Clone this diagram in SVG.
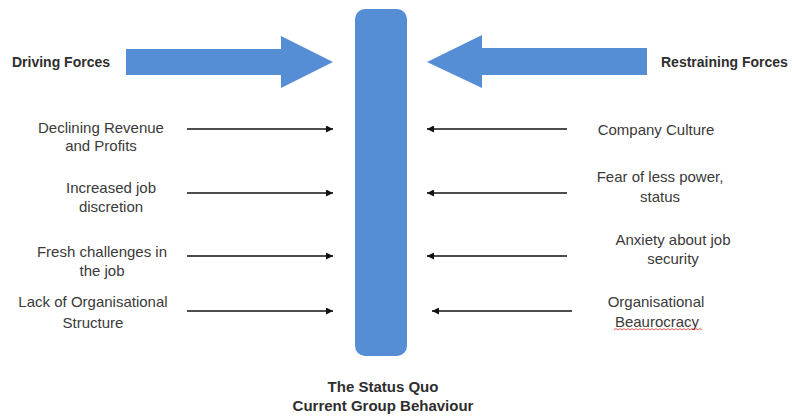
<svg xmlns="http://www.w3.org/2000/svg" width="792" height="417" viewBox="0 0 792 417">
  <style>
    .big { fill: #558ed5; }
    .lbl { font-family: "Liberation Sans", Arial, sans-serif; font-size: 15px; fill: #3a3a3a; text-anchor: middle; }
    .head { font-family: "Liberation Sans", Arial, sans-serif; font-size: 14px; font-weight: bold; fill: #2e2e2e; }
    .foot { font-size: 15px; text-anchor: middle; }
    .force { stroke: #111; stroke-width: 1.5; fill: none; marker-end: url(#tip); }
  </style>
  <defs>
    <marker id="tip" viewBox="0 0 10 10" refX="10" refY="5" markerWidth="7" markerHeight="7" markerUnits="userSpaceOnUse" orient="auto">
      <path d="M0,0 L10,5 L0,10 z" fill="#111"/>
    </marker>
  </defs>
  <rect width="792" height="417" fill="#ffffff"/>

  <!-- central bar: the status quo -->
  <g id="status-quo">
    <rect class="big" x="355" y="9" width="52" height="347" rx="10" ry="10"/>
    <text class="head foot" x="383" y="392">The Status Quo</text>
    <text class="head foot" x="383" y="411">Current Group Behaviour</text>
  </g>

  <!-- main driving / restraining arrows -->
  <g id="driving">
    <polygon class="big" points="126,49 281,49 281,36 333,62 281,88 281,75 126,75"/>
    <text class="head" x="12" y="67">Driving Forces</text>
  </g>
  <g id="restraining">
    <polygon class="big" points="647,48 482,48 482,35 427,62 482,88 482,75 647,75"/>
    <text class="head" x="661" y="67">Restraining Forces</text>
  </g>

  <!-- force connectors -->
  <g id="connectors">
    <line class="force" x1="187" y1="129" x2="333" y2="129"/>
    <line class="force" x1="187" y1="193" x2="333" y2="193"/>
    <line class="force" x1="187" y1="256" x2="333" y2="256"/>
    <line class="force" x1="187" y1="311" x2="333" y2="311"/>
    <line class="force" x1="567" y1="129" x2="427" y2="129"/>
    <line class="force" x1="567" y1="193" x2="427" y2="193"/>
    <line class="force" x1="567" y1="256" x2="427" y2="256"/>
    <line class="force" x1="572" y1="311" x2="432" y2="311"/>
  </g>

  <!-- driving force labels -->
  <g id="d1"><text class="lbl" x="101" y="133">Declining Revenue</text><text class="lbl" x="101" y="151">and Profits</text></g>
  <g id="d2"><text class="lbl" x="111" y="193">Increased job</text><text class="lbl" x="111" y="212">discretion</text></g>
  <g id="d3"><text class="lbl" x="102" y="257">Fresh challenges in</text><text class="lbl" x="102" y="276">the job</text></g>
  <g id="d4"><text class="lbl" x="93" y="307">Lack of Organisational</text><text class="lbl" x="93" y="328">Structure</text></g>

  <!-- restraining force labels -->
  <g id="r1"><text class="lbl" x="656" y="135">Company Culture</text></g>
  <g id="r2"><text class="lbl" x="660" y="182">Fear of less power,</text><text class="lbl" x="660" y="202">status</text></g>
  <g id="r3"><text class="lbl" x="673" y="245">Anxiety about job</text><text class="lbl" x="673" y="264">security</text></g>
  <g id="r4">
    <text class="lbl" x="656" y="307">Organisational</text>
    <text class="lbl" x="657" y="327">Beaurocracy</text>
    <path d="M614,330 l2,-1.5 l2,1.5 l2,-1.5 l2,1.5 l2,-1.5 l2,1.5 l2,-1.5 l2,1.5 l2,-1.5 l2,1.5 l2,-1.5 l2,1.5 l2,-1.5 l2,1.5 l2,-1.5 l2,1.5 l2,-1.5 l2,1.5 l2,-1.5 l2,1.5 l2,-1.5 l2,1.5 l2,-1.5 l2,1.5 l2,-1.5 l2,1.5 l2,-1.5 l2,1.5 l2,-1.5 l2,1.5 l2,-1.5 l2,1.5 l2,-1.5 l2,1.5 l2,-1.5 l2,1.5 l2,-1.5 l2,1.5 l2,-1.5 l2,1.5 l2,-1.5 l2,1.5 l2,-1.5 l2,1.5" fill="none" stroke="#e03030" stroke-width="0.8"/>
  </g>
</svg>
